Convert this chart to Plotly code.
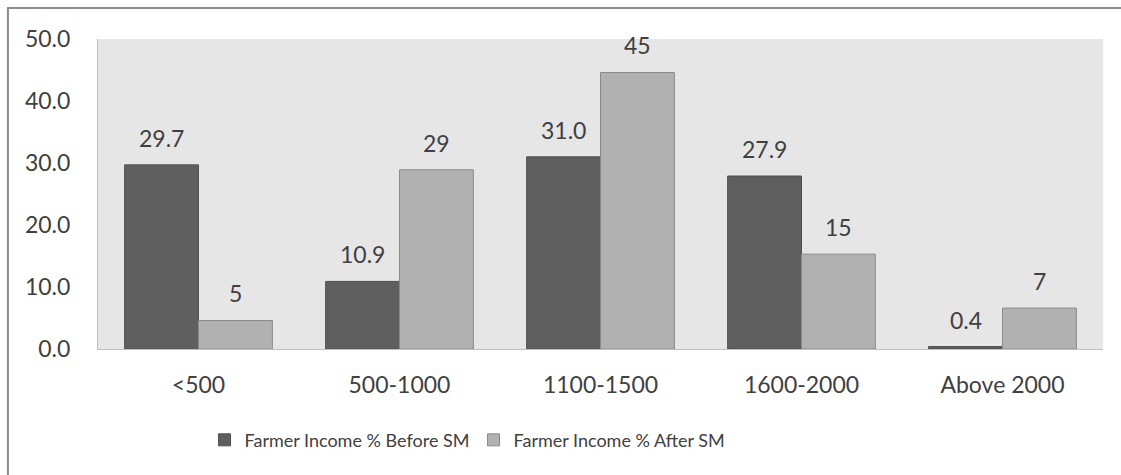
import plotly.graph_objects as go

categories = ["<500", "500-1000", "1100-1500", "1600-2000", "Above 2000"]
before_sm = [29.7, 10.9, 31.0, 27.9, 0.4]
after_sm = [4.6, 28.9, 44.6, 15.3, 6.6]
before_labels = ["29.7", "10.9", "31.0", "27.9", "0.4"]
after_labels = ["5", "29", "45", "15", "7"]
y_ticks = [0, 10, 20, 30, 40, 50]
y_tick_labels = ["0.0", "10.0", "20.0", "30.0", "40.0", "50.0"]

FONT = "Lato"
TXT = "#404040"
SZ = 23

fig = go.Figure()
fig.add_trace(go.Bar(
    x=categories, y=before_sm, name="Farmer Income % Before SM",
    marker=dict(color="#5f5f5f", line=dict(color="#505050", width=1)),
))
fig.add_trace(go.Bar(
    x=categories, y=after_sm, name="Farmer Income % After SM",
    marker=dict(color="#b1b1b1", line=dict(color="#8a8a8a", width=1)),
))

annotations = []
for cat, v, lab in zip(categories, before_sm, before_labels):
    annotations.append(dict(x=cat, y=v, text=lab, xshift=-37, yshift=11,
                            yanchor="bottom", showarrow=False,
                            font=dict(family=FONT, size=SZ, color=TXT)))
for cat, v, lab in zip(categories, after_sm, after_labels):
    annotations.append(dict(x=cat, y=v, text=lab, xshift=37, yshift=11,
                            yanchor="bottom", showarrow=False,
                            font=dict(family=FONT, size=SZ, color=TXT)))

fig.update_layout(
    width=1121, height=475,
    margin=dict(l=98, r=18, t=39, b=126),
    paper_bgcolor="white", plot_bgcolor="#e6e6e6",
    barmode="group", bargap=0.265, bargroupgap=0,
    font=dict(family=FONT, size=SZ, color=TXT),
    showlegend=True,
    legend=dict(orientation="h", x=0.106, xanchor="left", y=-0.294, yanchor="middle",
                font=dict(family=FONT, size=18, color=TXT), itemwidth=30,
                entrywidth=224, entrywidthmode="pixels",
                traceorder="normal", bgcolor="rgba(0,0,0,0)"),
    annotations=annotations,
    shapes=[dict(type="rect", xref="paper", yref="paper",
                 x0=-0.0896, x1=1.3, y0=-0.6, y1=1.1,
                 line=dict(color="#8c8c8c", width=2), layer="below")],
)
fig.update_xaxes(showgrid=False, showline=True, linecolor="#bfbfbf", linewidth=1,
                 ticks="outside", ticklen=15, tickcolor="rgba(0,0,0,0)",
                 tickfont=dict(family=FONT, size=SZ, color=TXT))
fig.update_yaxes(range=[0, 50], tickvals=y_ticks, ticktext=y_tick_labels,
                 showgrid=False, showline=True, linecolor="#bfbfbf", linewidth=1,
                 ticks="outside", ticklen=22, tickcolor="rgba(0,0,0,0)", zeroline=False,
                 tickfont=dict(family=FONT, size=SZ, color=TXT))

fig.write_html("out.html")
